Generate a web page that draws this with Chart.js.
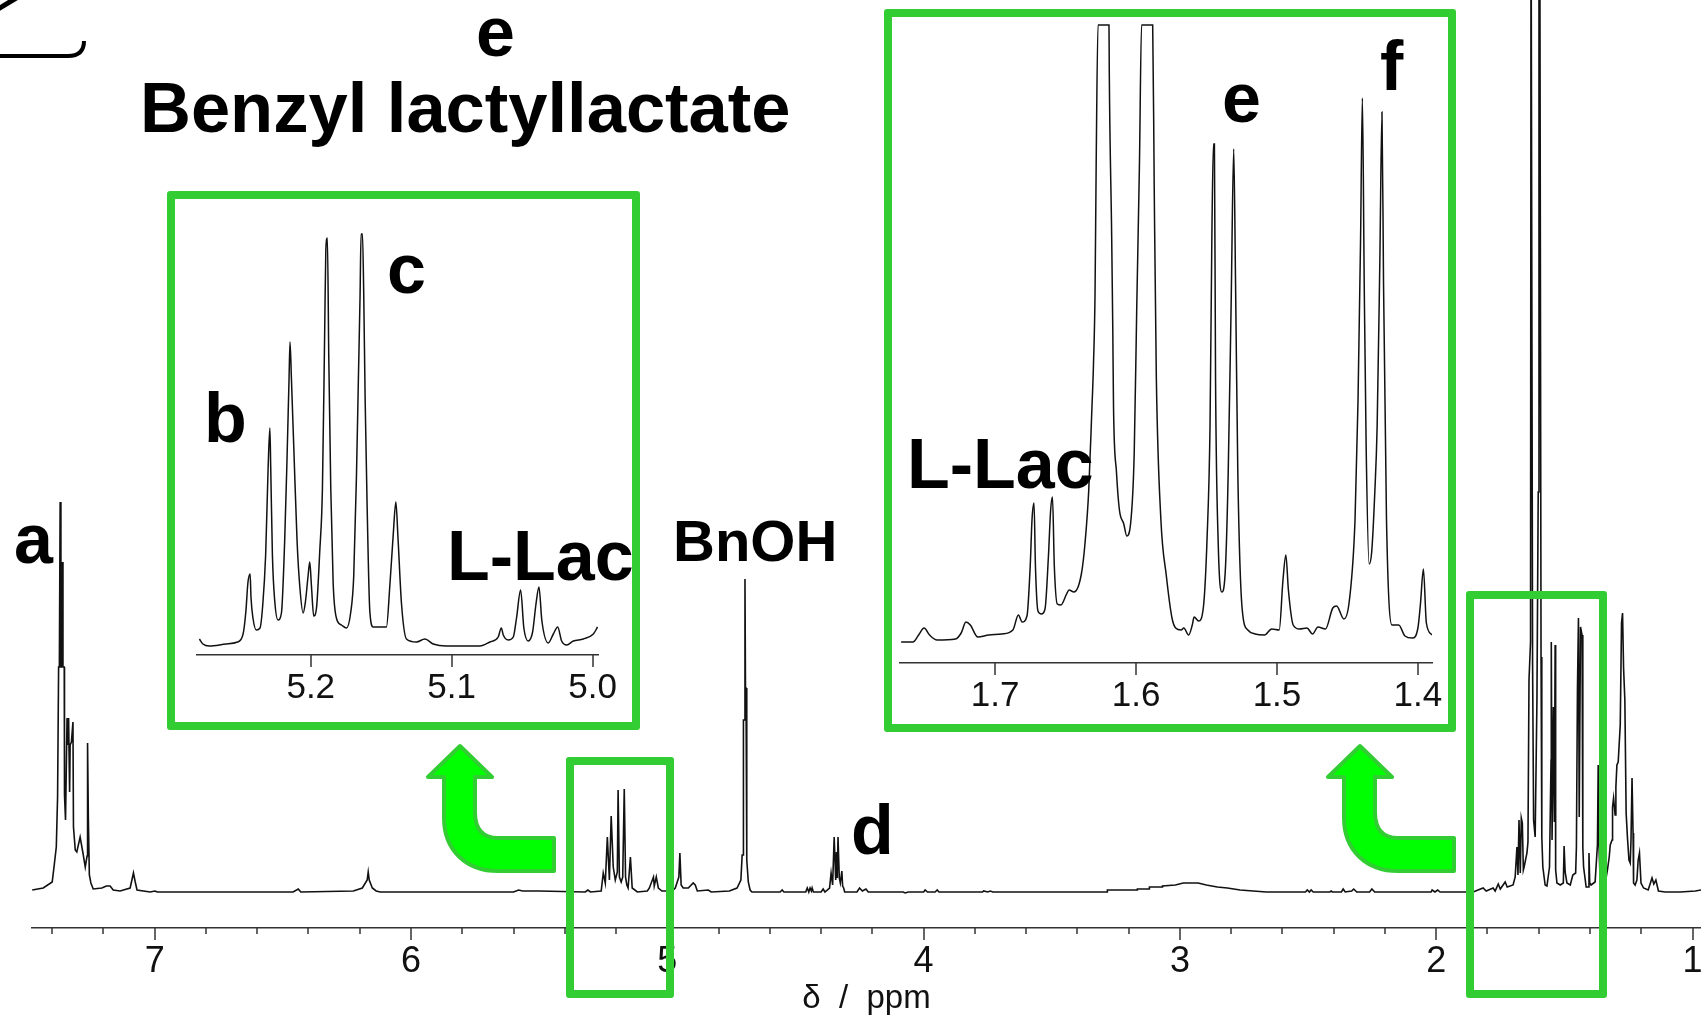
<!DOCTYPE html>
<html>
<head>
<meta charset="utf-8">
<title>Benzyl lactyllactate</title>
<script src="https://cdn.jsdelivr.net/npm/chart.js@4"></script>
<style>
    html, body { margin: 0; padding: 0; background: #fff; width: 1701px; height: 1019px; overflow: hidden; }
    canvas, .box, .label, svg { position: absolute; }
    canvas { left: 0; top: 0; }
    .box { box-sizing: border-box; border: 8px solid #32cd32; border-radius: 3px; }
    .label { font-family: "Liberation Sans", Arial, sans-serif; font-weight: bold; color: #000; line-height: 1; white-space: pre; }
</style>
</head>
<body>
<canvas id="mainChart" width="1701" height="1019"></canvas>
<canvas id="insetLeft" width="1701" height="1019"></canvas>
<canvas id="insetRight" width="1701" height="1019"></canvas>

<svg width="1701" height="1019" style="left:0;top:0">
    <path d="M-5,56 L68,56 Q84,56 84,41" fill="none" stroke="#000" stroke-width="4"/>
    <path d="M-2,9 L18,-3" fill="none" stroke="#000" stroke-width="5"/>
    <g id="arrow" fill="#00ff00" stroke="#32cd32" stroke-width="4" stroke-linejoin="round">
        <path d="M460,746 L492,777 L475,777 L475,812 Q475,838 498,838 L554,838 L554,871 L498,871 C466,871 444,850 444,818 L444,777 L428,777 Z"/>
        <path transform="translate(900,0)" d="M460,746 L492,777 L475,777 L475,812 Q475,838 498,838 L554,838 L554,871 L498,871 C466,871 444,850 444,818 L444,777 L428,777 Z"/>
    </g>
</svg>

<div class="box" style="left:167px;top:191px;width:473px;height:539px"></div>
<div class="box" style="left:884px;top:9px;width:572px;height:723px"></div>
<div class="box" style="left:566px;top:757px;width:108px;height:241px"></div>
<div class="box" style="left:1466px;top:591px;width:141px;height:407px"></div>

<script>
// main spectrum, [ppm, height above baseline]
const traceAromatic = [[7.478,2],[7.435,4],[7.400,10],[7.392,27],[7.384,45],[7.379,95],[7.375,225],[7.372,225],[7.369,390],[7.366,225],[7.363,225],[7.361,330],[7.358,225],[7.353,225],[7.352,97],[7.348,72],[7.342,174],[7.339,147],[7.336,174],[7.332,100],[7.330,147],[7.325,150],[7.319,170],[7.317,65],[7.310,42],[7.304,40],[7.291,55],[7.280,39],[7.271,25],[7.264,36],[7.262,149],[7.259,75],[7.255,17],[7.249,9],[7.240,3],[7.206,4],[7.189,6],[7.174,6],[7.162,2],[7.135,1],[7.096,4],[7.083,19],[7.076,10],[7.069,2],[7.018,0],[6.999,1],[6.99,0]];
const traceOlefin = [[6.46,0],[6.44,3],[6.43,0],[6.225,1],[6.190,4],[6.171,12],[6.167,20],[6.163,12],[6.151,4],[6.136,1],[6.120,0],[5.60,0],[5.58,2],[5.565,1],[5.54,1],[5.5,1],[5.32,0],[5.31,2],[5.30,0],[5.258,1]];
const traceMethine = [[5.250,19],[5.242,9],[5.234,55],[5.226,12],[5.219,76],[5.211,25],[5.203,12],[5.195,20],[5.192,102],[5.187,15],[5.180,10],[5.174,15],[5.168,103],[5.163,15],[5.158,7],[5.153,4],[5.144,35],[5.137,4],[5.117,0],[5.078,1],[5.07,4],[5.054,15],[5.051,6],[5.043,15],[5.035,4],[5.021,1],[4.981,1],[4.969,4],[4.955,15],[4.951,39],[4.946,7],[4.938,4],[4.918,4],[4.899,9],[4.891,7],[4.883,1],[4.840,2],[4.829,0],[4.758,1],[4.728,4],[4.713,12]];
const traceBnOH = [[4.708,37],[4.704,37],[4.703,172],[4.699,172],[4.697,313],[4.695,204],[4.693,204],[4.690,32],[4.684,10],[4.677,2],[4.670,0]];
const traceQuartet = [[4.56,0],[4.552,2],[4.545,0],[4.46,0],[4.454,4],[4.448,0],[4.443,4],[4.438,1],[4.435,4],[4.43,0],[4.40,0],[4.392,3],[4.385,0],[4.367,4],[4.361,19],[4.355,7],[4.349,55],[4.343,12],[4.340,40],[4.337,14],[4.334,55],[4.329,14],[4.325,9],[4.319,21],[4.316,6],[4.312,4],[4.308,0],[4.26,0],[4.250,4],[4.239,1],[4.225,3],[4.216,0],[4.08,0],[4.072,-1],[4.06,0],[4.0,0],[3.994,2],[3.985,0],[3.955,0],[3.947,2],[3.94,0],[3.77,0],[3.766,1],[3.75,0],[3.74,1],[3.73,0]];
const traceWater = [[3.284,0],[3.283,2],[3.167,2],[3.166,3],[3.120,3],[3.119,5],[3.069,5],[3.068,6],[3.018,7],[2.987,9],[2.929,9],[2.897,7],[2.854,5],[2.815,4],[2.765,2],[2.663,0],[2.51,0],[2.503,2],[2.495,0],[2.488,2],[2.48,0],[2.415,0],[2.410,1],[2.405,0],[2.37,0],[2.363,3],[2.355,0],[2.33,1],[2.322,3],[2.31,0],[2.26,0],[2.251,3],[2.24,0],[2.02,0],[2.016,2],[2.005,0],[1.994,2],[1.985,0]];
const traceMethyl = [[1.856,0],[1.817,4],[1.805,1],[1.778,4],[1.770,1],[1.758,8],[1.750,3],[1.731,10],[1.723,5],[1.700,7],[1.692,15],[1.685,45],[1.681,17],[1.677,72],[1.672,19],[1.668,74],[1.664,69],[1.660,22],[1.657,25],[1.646,39],[1.642,50],[1.638,212],[1.632,250],[1.630,1000],[1.627,1000],[1.624,228],[1.620,72],[1.614,55],[1.607,192],[1.602,400],[1.599,1000],[1.596,1000],[1.591,235],[1.588,55],[1.584,25],[1.575,7],[1.568,6],[1.558,25],[1.552,132],[1.551,250],[1.548,52],[1.543,185],[1.539,70],[1.536,247],[1.534,22],[1.529,9],[1.516,7],[1.504,9],[1.501,46],[1.497,20],[1.490,9],[1.477,7],[1.467,17],[1.456,19],[1.453,45],[1.449,202],[1.445,274],[1.442,75],[1.437,265],[1.431,257],[1.428,45],[1.425,25],[1.415,5],[1.407,5],[1.404,39],[1.401,9],[1.396,7],[1.380,10],[1.371,47],[1.368,127],[1.365,47],[1.360,9],[1.340,10],[1.332,22],[1.325,35],[1.321,47],[1.314,52],[1.312,85],[1.308,94],[1.302,77],[1.299,105],[1.295,127],[1.290,130],[1.282,167],[1.277,269],[1.273,279],[1.269,224],[1.264,192],[1.259,79],[1.254,55],[1.248,32],[1.243,29],[1.240,52],[1.236,114],[1.232,59],[1.230,9],[1.224,7],[1.217,12],[1.212,32],[1.207,39],[1.201,9],[1.191,4],[1.173,2],[1.158,14],[1.151,8],[1.143,12],[1.133,1],[1.107,0],[1.048,0],[0.989,1],[0.966,2]];

// insets
const traceInsetLeft = [[5.279,7],[5.2765,2],[5.272,0],[5.260,2],[5.252,4],[5.248,12],[5.246,35],[5.2446,63],[5.243,72],[5.2424,49],[5.241,28],[5.2386,16],[5.236,18],[5.234,42],[5.232,91],[5.2303,175],[5.229,218],[5.2284,179],[5.2272,91],[5.2256,46],[5.2232,26],[5.2208,33],[5.2185,105],[5.2168,189],[5.2154,267],[5.2147,304],[5.2137,267],[5.2118,189],[5.2097,105],[5.2078,60],[5.2054,33],[5.2038,44],[5.2019,70],[5.2007,84],[5.1995,60],[5.1979,30],[5.196,37],[5.1936,95],[5.1917,158],[5.1901,316],[5.1893,396],[5.1882,408],[5.1872,288],[5.1858,158],[5.1841,63],[5.1818,28],[5.1782,21],[5.1747,18],[5.1718,32],[5.1695,70],[5.1676,168],[5.1662,267],[5.165,351],[5.1643,412],[5.1633,412],[5.1624,351],[5.1614,246],[5.16,140],[5.1581,35],[5.1557,19],[5.151,19],[5.1463,19],[5.1439,60],[5.1415,111],[5.1396,144],[5.1382,111],[5.1356,42],[5.1321,7],[5.125,4],[5.119,7],[5.1131,2],[5.1037,0],[5.08,0],[5.0729,4],[5.067,9],[5.0648,18],[5.0634,11],[5.0599,6],[5.0563,9],[5.054,28],[5.0511,56],[5.0488,18],[5.0457,5],[5.0426,14],[5.0402,42],[5.0381,59],[5.036,25],[5.0315,3],[5.0279,12],[5.0248,19],[5.022,5],[5.0184,1],[5.0137,5],[5.0066,7],[4.9995,12],[4.9965,19]];
const traceInsetRight = [[1.7667,0],[1.7583,0],[1.7543,7],[1.7504,14],[1.7465,7],[1.7412,2],[1.7281,3],[1.7241,9],[1.7207,20],[1.7176,17],[1.7123,5],[1.7045,7],[1.6953,8],[1.6874,12],[1.6835,27],[1.6808,20],[1.6774,26],[1.6751,76],[1.6738,123],[1.6724,139],[1.6714,76],[1.6696,31],[1.6672,28],[1.6646,33],[1.6622,85],[1.6606,132],[1.6593,145],[1.658,76],[1.6559,38],[1.6533,37],[1.6493,48],[1.6475,52],[1.6441,50],[1.6388,68],[1.6362,99],[1.6336,151],[1.6315,227],[1.6302,278],[1.6291,349],[1.6283,477],[1.627,617],[1.6192,617],[1.6190,571],[1.6173,406],[1.6165,311],[1.616,236],[1.6139,170],[1.6118,132],[1.6087,118],[1.6066,106],[1.6039,118],[1.6013,189],[1.5995,335],[1.5976,477],[1.5961,617],[1.5882,617],[1.5871,453],[1.5856,264],[1.5824,123],[1.5785,66],[1.5745,24],[1.5719,14],[1.568,12],[1.5661,14],[1.5627,7],[1.5601,17],[1.5588,25],[1.5556,21],[1.5522,35],[1.5496,104],[1.5475,217],[1.5462,406],[1.5451,498],[1.5444,498],[1.5436,264],[1.5417,99],[1.5391,50],[1.5365,76],[1.5346,170],[1.5325,340],[1.5307,493],[1.5294,359],[1.5278,170],[1.5247,33],[1.5207,12],[1.5155,8],[1.5089,7],[1.5037,13],[1.4984,12],[1.4958,61],[1.4937,87],[1.4919,52],[1.4885,17],[1.484,13],[1.4787,14],[1.4748,8],[1.4709,15],[1.4656,13],[1.4604,34],[1.4577,36],[1.4525,23],[1.4486,42],[1.4446,123],[1.4425,241],[1.4407,401],[1.4394,544],[1.4381,359],[1.4367,193],[1.4346,78],[1.4328,90],[1.4307,146],[1.4289,217],[1.427,382],[1.4255,530],[1.4244,359],[1.4223,123],[1.4184,17],[1.4136,17],[1.4092,6],[1.4039,4],[1.4,14],[1.3982,38],[1.3961,73],[1.394,19],[1.39,7]];

const mainLabelTicks = [7, 6, 5, 4, 3, 2, 1];
const mainMinorTicks = [7.4,7.2,6.8,6.6,6.4,6.2,5.8,5.6,5.4,5.2,4.8,4.6,4.4,4.2,3.8,3.6,3.4,3.2,2.8,2.6,2.4,2.2,1.8,1.6,1.4,1.2];
const leftLabelTicks = [5.2, 5.1, 5.0];
const rightLabelTicks = [1.7, 1.6, 1.5, 1.4];

const TICK_FONT = '"Liberation Sans", Arial, sans-serif';

// major and minor ticks have different lengths, chart.js has only one tickLength
const tickMarks = {
    id: 'tickMarks',
    afterDraw(chart, args, opts) {
        const scale = chart.scales.x, ctx = chart.ctx;
        ctx.save();
        ctx.strokeStyle = '#333';
        ctx.lineWidth = 1.5;
        scale.ticks.forEach(t => {
            const px = Math.round(scale.getPixelForValue(t.value));
            ctx.beginPath();
            ctx.moveTo(px, scale.top);
            ctx.lineTo(px, scale.top + (t.major ? opts.major : opts.minor));
            ctx.stroke();
        });
        ctx.restore();
    }
};

function makeSpectrum(id, trace, cfg) {
    const top = cfg.top, bottom = cfg.bottom;
    new Chart(document.getElementById(id), {
        type: 'line',
        data: {
            datasets: [{
                data: trace.map(p => ({ x: p[0], y: p[1] })),
                borderColor: '#111',
                borderWidth: cfg.lineWidth,
                pointRadius: 0,
                cubicInterpolationMode: cfg.smooth ? 'monotone' : 'default',
                tension: 0,
                fill: false
            }]
        },
        options: {
            responsive: false,
            animation: false,
            events: [],
            layout: {
                autoPadding: false,
                padding: { left: cfg.left, right: 1701 - cfg.right, top: top, bottom: 1019 - bottom - cfg.axisHeight }
            },
            plugins: {
                legend: { display: false },
                tooltip: { enabled: false },
                tickMarks: { major: cfg.majorLen, minor: cfg.minorLen }
            },
            scales: {
                x: {
                    type: 'linear',
                    reverse: true,
                    min: cfg.ppmMin,
                    max: cfg.ppmMax,
                    afterBuildTicks(scale) {
                        const all = cfg.labelTicks.map(v => ({ value: v, major: true }))
                            .concat((cfg.minorTicks || []).map(v => ({ value: v, major: false })));
                        scale.ticks = all.sort((a, b) => b.value - a.value);
                    },
                    afterFit(scale) {
                        scale.height = cfg.axisHeight;
                        // labels hanging over the edge must not shrink the plot
                        scale.paddingLeft = 0;
                        scale.paddingRight = 0;
                    },
                    border: { display: true, color: '#333', width: 1.5 },
                    grid: { drawOnChartArea: false, drawTicks: false },
                    ticks: {
                        autoSkip: false,
                        maxRotation: 0,
                        padding: cfg.labelGap,
                        color: '#111',
                        font: { family: TICK_FONT, size: cfg.fontSize },
                        callback(v) {
                            return cfg.labelTicks.includes(v) ? v.toFixed(cfg.decimals) : '';
                        }
                    },
                    title: cfg.title ? {
                        display: true,
                        text: cfg.title,
                        color: '#111',
                        font: { family: '"Liberation Sans", Arial, sans-serif', size: 33 },
                        padding: 0
                    } : { display: false }
                },
                y: { display: false, min: cfg.yMin, max: cfg.yMax }
            }
        },
        plugins: [tickMarks]
    });
}

makeSpectrum('mainChart', [].concat(traceAromatic, traceOlefin, traceMethine, traceBnOH, traceQuartet, traceWater, traceMethyl), {
    left: 32, right: 1701, top: 0, bottom: 928, axisHeight: 91,
    ppmMin: 0.9669, ppmMax: 7.4788, yMin: -36, yMax: 892,
    labelTicks: mainLabelTicks, minorTicks: mainMinorTicks, decimals: 0,
    majorLen: 12, minorLen: 6, labelGap: 12, fontSize: 36, lineWidth: 1.6, title: 'δ  /  ppm'
});
makeSpectrum('insetLeft', traceInsetLeft, {
    left: 197, right: 598, top: 200, bottom: 655, axisHeight: 55,
    ppmMin: 4.9962, ppmMax: 5.2807, yMin: -9, yMax: 446,
    labelTicks: leftLabelTicks, decimals: 1,
    majorLen: 12, minorLen: 6, labelGap: 12, fontSize: 35, lineWidth: 1.5, smooth: true
});
makeSpectrum('insetRight', traceInsetRight, {
    left: 900, right: 1432, top: 10, bottom: 663, axisHeight: 55,
    ppmMin: 1.39, ppmMax: 1.7675, yMin: -21, yMax: 632,
    labelTicks: rightLabelTicks, decimals: 1,
    majorLen: 12, minorLen: 6, labelGap: 12, fontSize: 35, lineWidth: 1.5, smooth: true
});

// peak assignment labels: text, left x, baseline y, font size
const labelTexts = ['e', 'Benzyl lactyllactate', 'a', 'b', 'c', 'L-Lac', 'BnOH', 'd', 'L-Lac', 'e', 'f'];
const labelX = [476, 140, 14, 204, 387, 447, 673, 851, 907, 1222, 1380];
const labelBaseline = [57, 134, 564, 443, 294, 581, 562, 855, 489, 123, 91];
const labelSize = [70, 70.5, 70, 70, 70, 70, 58, 70, 70, 70, 70];

labelTexts.forEach((t, i) => {
    const d = document.createElement('div');
    d.className = 'label';
    d.textContent = t;
    d.style.left = labelX[i] + 'px';
    d.style.fontSize = labelSize[i] + 'px';
    // Liberation Sans baseline sits about 0.86em below the top of a line-height:1 box
    d.style.top = (labelBaseline[i] - labelSize[i] * 0.86) + 'px';
    document.body.appendChild(d);
});
</script>
</body>
</html>
